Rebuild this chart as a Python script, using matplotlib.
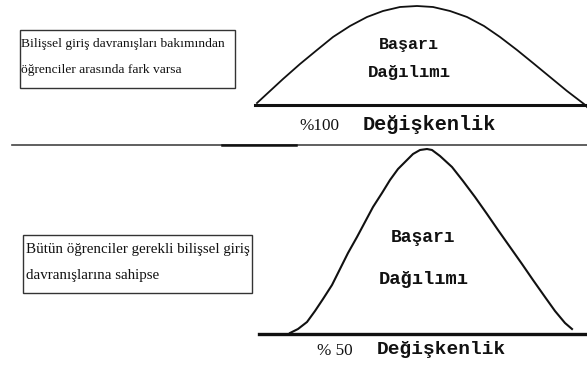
import matplotlib
matplotlib.use("Agg")
import matplotlib.pyplot as plt

# Curve points (pixel-like coordinates, y downward)
top_curve_x = [257, 270, 283, 300, 317, 333, 350, 367, 383, 400, 417, 433, 450, 467, 484, 500, 517, 533, 550, 567, 584, 587]
top_curve_y = [103, 91, 79, 64, 50, 37, 26, 17, 11, 7, 6, 7, 11, 17, 26, 37, 50, 63, 77, 91, 104, 107]

bottom_curve_x = [290, 298, 307, 315, 323, 332, 340, 348, 357, 365, 373, 382, 390, 398, 407, 413, 420, 427, 432, 440, 452, 463, 475, 487, 498, 510, 522, 533, 545, 555, 565, 572]
bottom_curve_y = [333, 329, 322, 311, 299, 285, 269, 253, 237, 222, 207, 193, 180, 169, 160, 154, 150, 149, 150, 156, 167, 181, 197, 214, 230, 247, 264, 280, 297, 311, 323, 329]

top_box_lines = ["Bilişsel giriş davranışları bakımından", "öğrenciler arasında fark varsa"]
bottom_box_lines = ["Bütün öğrenciler gerekli bilişsel giriş", "davranışlarına sahipse"]
curve_label = ["Başarı", "Dağılımı"]
top_pct = "%100"
bottom_pct = "% 50"
axis_word = "Değişkenlik"

fig = plt.figure(figsize=(5.87, 3.68), dpi=100)
ax = fig.add_axes([0, 0, 1, 1])
ax.set_xlim(0, 587)
ax.set_ylim(368, 0)
ax.axis("off")

ink = "#111111"

# curves
ax.plot(top_curve_x, top_curve_y, color=ink, lw=1.3, solid_joinstyle="round")
ax.plot(bottom_curve_x, bottom_curve_y, color=ink, lw=1.5, solid_joinstyle="round")

# baselines
ax.plot([255, 587], [105, 105], color=ink, lw=2.2)
ax.plot([12, 587], [145, 145], color="#444444", lw=1.2)
ax.plot([222, 296], [145, 145], color=ink, lw=1.8)
ax.plot([259, 587], [334, 334], color=ink, lw=2.4)

# text boxes
ax.add_patch(plt.Rectangle((20, 30), 215, 58, fill=False, ec="#333333", lw=1.0))
ax.add_patch(plt.Rectangle((23, 235), 229, 58, fill=False, ec="#333333", lw=1.0))

serif = "Liberation Serif"
ax.text(21, 44, top_box_lines[0], family=serif, fontsize=9.7, va="center", ha="left", color=ink)
ax.text(21, 70, top_box_lines[1], family=serif, fontsize=9.7, va="center", ha="left", color=ink)
ax.text(26, 249, bottom_box_lines[0], family=serif, fontsize=10.8, va="center", ha="left", color=ink)
ax.text(26, 275, bottom_box_lines[1], family=serif, fontsize=10.8, va="center", ha="left", color=ink)

mono = "Liberation Mono"
ax.text(409, 45, curve_label[0], family=mono, fontweight="bold", fontsize=12, ha="center", va="center", color=ink)
ax.text(409, 72, curve_label[1], family=mono, fontweight="bold", fontsize=12.5, ha="center", va="center", color=ink)
ax.text(423, 237, curve_label[0], family=mono, fontweight="bold", fontsize=13, ha="center", va="center", color=ink)
ax.text(424, 280, curve_label[1], family=mono, fontweight="bold", fontsize=13.5, ha="center", va="center", color=ink)

ax.text(319, 126, top_pct, family=serif, fontsize=12.3, ha="center", va="center", color=ink)
ax.text(363, 125, axis_word, family=mono, fontweight="bold", fontsize=14.5, ha="left", va="center", color=ink)
ax.text(335, 351, bottom_pct, family=serif, fontsize=12.3, ha="center", va="center", color=ink)
ax.text(377, 350, axis_word, family=mono, fontweight="bold", fontsize=14, ha="left", va="center", color=ink)

fig.savefig("out.png", dpi=100, facecolor="white")
